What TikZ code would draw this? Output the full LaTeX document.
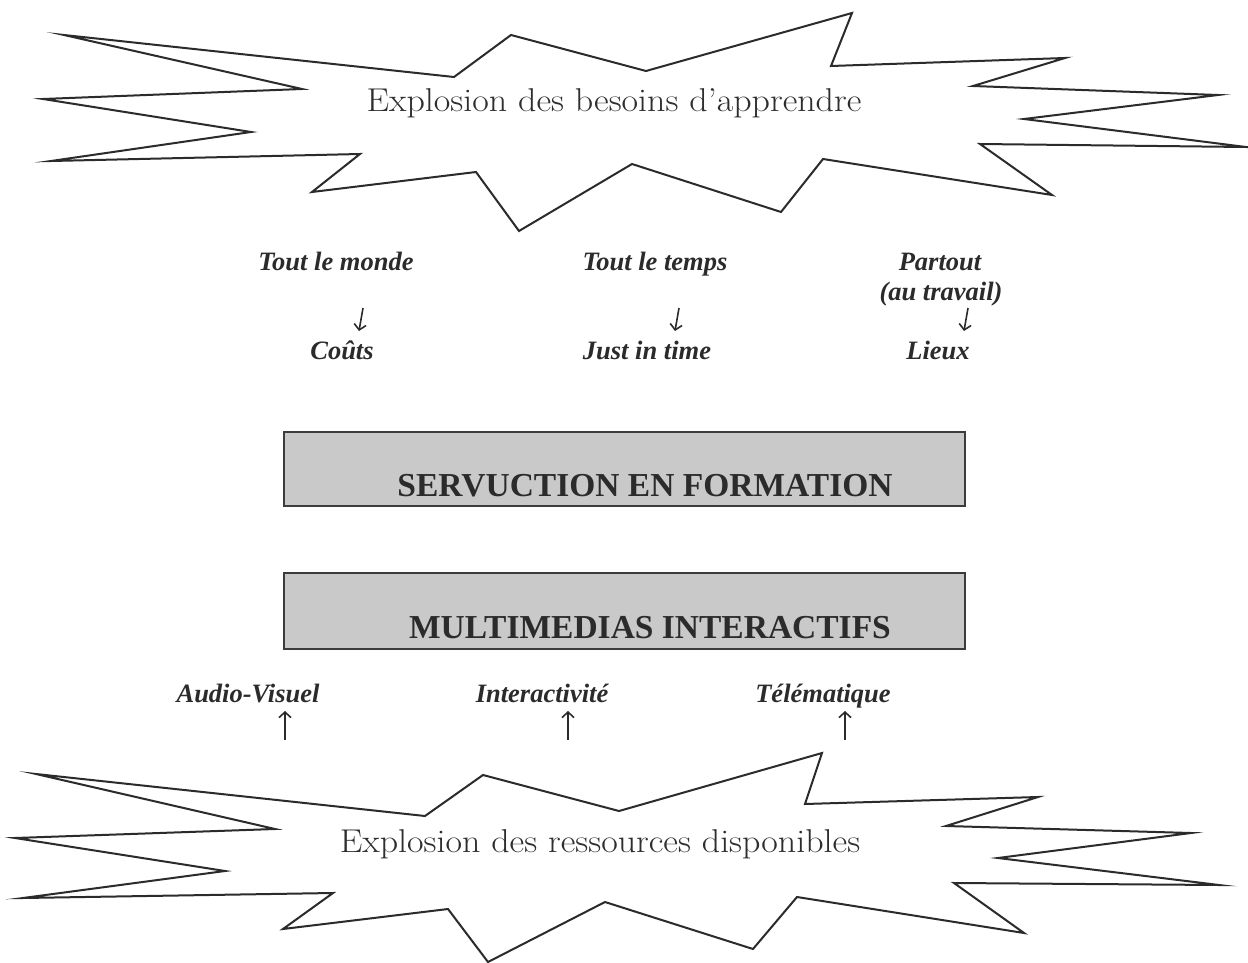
\documentclass[tikz,border=0pt]{standalone}
\usepackage{fontspec}
\setmainfont{Liberation Serif}
\newfontfamily\starfont[FakeStretch=1.09]{Latin Modern Roman}
\usetikzlibrary{arrows.meta}
\definecolor{ink}{HTML}{2B2B2B}
\definecolor{startext}{HTML}{2E2E2E}
\definecolor{boxfill}{HTML}{C9C9C9}
\definecolor{boxline}{HTML}{3C3C3C}
\tikzset{
  starline/.style={draw=ink, line width=2pt, line join=miter, miter limit=20},
  startxt/.style={anchor=base, text=startext, font=\starfont\fontsize{33}{40}\selectfont, inner sep=0pt},
  graybox/.style={draw=boxline, fill=boxfill, line width=2.4pt, inner sep=0pt},
  boxtxt/.style={anchor=base, text=ink, font=\bfseries\fontsize{33.5}{40}\selectfont, inner sep=0pt},
  lab/.style={anchor=base, text=ink, font=\bfseries\itshape\fontsize{26.5}{30}\selectfont, inner sep=0pt},
  arr/.style={draw=ink, line width=1.6pt, -{Straight Barb[length=5.5pt,width=12pt,line width=1.6pt]}}
}
\begin{document}
\begin{tikzpicture}[x=1pt,y=-1pt]
\useasboundingbox (0,0) rectangle (1248,963);
\fill[white] (0,0) rectangle (1248,963);

% top explosion
\draw[starline] (64,35) -- (454,77) -- (511,35) -- (646,71) -- (852,13) -- (831,66)
  -- (1065,58) -- (973,86) -- (1218,95) -- (1024,119) -- (1246,147) -- (980,144)
  -- (1052,195) -- (823,159) -- (781,212) -- (632,164) -- (519,231) -- (476,172)
  -- (312,192) -- (360,154) -- (51,161) -- (251,132) -- (43,99) -- (302,89) -- cycle;
\node[startxt] (besoins) at (614,112) {Explosion des besoins d’apprendre};

% labels top
\node[lab] (t1) at (336,270) {Tout le monde};
\node[lab] (t2) at (655,270) {Tout le temps};
\node[lab] (t3) at (940,270) {Partout};
\node[lab] (t3b) at (941,300) {(au travail)};
\node[lab] (b1) at (342,359) {Coûts};
\node[lab] (b2) at (647,359) {Just in time};
\node[lab] (b3) at (938,359) {Lieux};

\coordinate (d1s) at (363,308); \coordinate (d1e) at (359,331);
\coordinate (d2s) at (679,308); \coordinate (d2e) at (675,331);
\coordinate (d3s) at (968,308); \coordinate (d3e) at (964,331);
\draw[arr] (d1s) -- (d1e);
\draw[arr] (d2s) -- (d2e);
\draw[arr] (d3s) -- (d3e);

% boxes
\node[graybox, minimum width=681pt, minimum height=74pt] (serv) at (624.5,469) {};
\node[boxtxt] (servt) at (645,496) {SERVUCTION EN FORMATION};
\node[graybox, minimum width=681pt, minimum height=76pt] (multi) at (624.5,611) {};
\node[boxtxt] (multit) at (650,638) {MULTIMEDIAS INTERACTIFS};

% labels bottom
\node[lab] (u1) at (248,702) {Audio-Visuel};
\node[lab] (u2) at (542,702) {Interactivité};
\node[lab] (u3) at (823,702) {Télématique};

\coordinate (u1s) at (285,740); \coordinate (u1e) at (285,711);
\coordinate (u2s) at (568,740); \coordinate (u2e) at (568,711);
\coordinate (u3s) at (845,740); \coordinate (u3e) at (845,711);
\draw[arr] (u1s) -- (u1e);
\draw[arr] (u2s) -- (u2e);
\draw[arr] (u3s) -- (u3e);

% bottom explosion
\draw[starline] (36,774) -- (425,816) -- (483,775) -- (619,811) -- (822,753) -- (805,804)
  -- (1038,797) -- (946,826) -- (1191,833) -- (998,858) -- (1219,885) -- (954,883)
  -- (1024,933) -- (797,897) -- (753,949) -- (605,902) -- (488,962) -- (448,909)
  -- (283,929) -- (333,893) -- (23,898) -- (225,871) -- (15,838) -- (275,829) -- cycle;
\node[startxt] (ressources) at (600,852) {Explosion des ressources disponibles};
\end{tikzpicture}
\end{document}
